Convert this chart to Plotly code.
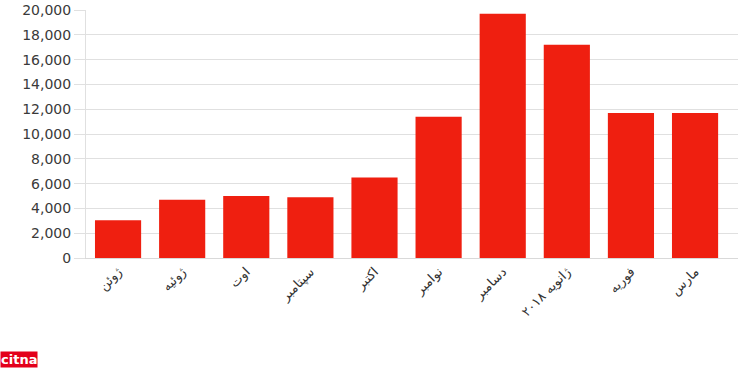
import plotly.graph_objects as go

months = ["ژوئن", "ژوئیه", "اوت", "سپتامبر", "اکتبر", "نوامبر", "دسامبر", "ژانویه ۲۰۱۸", "فوریه", "مارس"]
values = [3050, 4700, 5000, 4900, 6500, 11400, 19700, 17200, 11700, 11700]
ytick_vals = [0, 2000, 4000, 6000, 8000, 10000, 12000, 14000, 16000, 18000, 20000]

fig = go.Figure(go.Bar(
    x=list(range(len(months))), y=values,
    marker=dict(color="#EF1F10", line=dict(width=0)),
    hoverinfo="skip",
))

fig.update_layout(
    width=738, height=368,
    margin=dict(l=86, r=0, t=10, b=110),
    plot_bgcolor="white", paper_bgcolor="white",
    bargap=0.28,
    showlegend=False,
    font=dict(family="DejaVu Sans", color="#333333"),
    xaxis=dict(
        tickmode="array", tickvals=list(range(len(months))), ticktext=months,
        range=[-0.5, 9.67], tickangle=-45, showgrid=False, zeroline=False,
        showline=True, linecolor="#d9d9d9", linewidth=1,
        tickfont=dict(family="DejaVu Sans", size=13, color="#333333"),
        ticks="", fixedrange=True,
    ),
    yaxis=dict(
        range=[0, 20000], tickmode="array", tickvals=ytick_vals,
        tickformat=",d", showgrid=True, gridcolor="#e0e0e0", gridwidth=1,
        zeroline=False, showline=True, linecolor="#e0e0e0", linewidth=1,
        ticks="outside", ticklen=11, tickcolor="#e0e0e0",
        tickfont=dict(family="DejaVu Sans", size=14, color="#3a3a3a"),
        fixedrange=True,
    ),
    annotations=[dict(
        text="<b>citna</b>", xref="paper", yref="paper",
        x=-86/652, y=-0.41, xanchor="left", yanchor="middle",
        showarrow=False, bgcolor="#E3001B",
        font=dict(color="white", size=13, family="DejaVu Sans"),
        borderpad=0,
    )],
)

fig.write_html("out.html", config={"displayModeBar": False},
               post_script="document.body.style.margin='0';document.body.style.padding='0';")
